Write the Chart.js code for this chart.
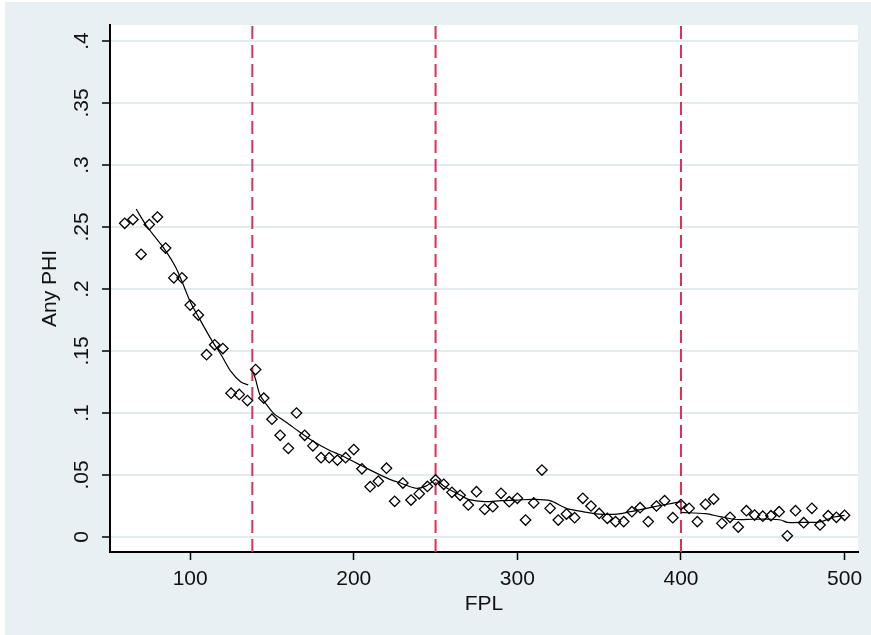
<!DOCTYPE html>
<html>
<head>
<meta charset="utf-8">
<title>Any PHI by FPL</title>
<script src="https://cdn.jsdelivr.net/npm/chart.js@4.4.0/dist/chart.umd.min.js"></script>
<style>
  html, body { margin: 0; padding: 0; background: #fff; }
  #wrap { position: absolute; left: 5px; top: 2px; width: 866px; height: 633px; background: #e9f0f3; }
</style>
</head>
<body>
<div id="wrap"><canvas id="phiChart"></canvas></div>
<script>
// binned means, one per 5 points of FPL
const fplBins = [60, 65, 70, 75, 80, 85, 90, 95, 100, 105, 110, 115, 120, 125, 130, 135,
  140, 145, 150, 155, 160, 165, 170, 175, 180, 185, 190, 195, 200, 205, 210, 215, 220, 225, 230, 235, 240, 245, 250,
  255, 260, 265, 270, 275, 280, 285, 290, 295, 300, 305, 310, 315, 320, 325, 330, 335, 340, 345, 350, 355, 360, 365, 370, 375, 380, 385, 390, 395, 400,
  405, 410, 415, 420, 425, 430, 435, 440, 445, 450, 455, 460, 465, 470, 475, 480, 485, 490, 495, 500];
const anyPhi = [0.253, 0.256, 0.228, 0.252, 0.258, 0.233, 0.209, 0.209, 0.187, 0.179, 0.147, 0.155, 0.152, 0.116, 0.115, 0.110,
  0.135, 0.112, 0.095, 0.082, 0.0715, 0.100, 0.082, 0.0735, 0.064, 0.064, 0.062, 0.064, 0.0705, 0.055, 0.0406, 0.045, 0.0555, 0.0288, 0.0435, 0.0298, 0.0348, 0.0408, 0.046,
  0.0425, 0.036, 0.0336, 0.0258, 0.0365, 0.0223, 0.0244, 0.0352, 0.0285, 0.0312, 0.0137, 0.0275, 0.054, 0.0231, 0.0137, 0.0185, 0.0156, 0.0312, 0.025, 0.019, 0.0151, 0.0124, 0.0124, 0.0204, 0.0236, 0.0124, 0.025, 0.0293, 0.0156, 0.0262,
  0.0231, 0.0124, 0.0264, 0.0306, 0.011, 0.0159, 0.008, 0.0212, 0.0177, 0.0168, 0.0172, 0.0204, 0.001, 0.0212, 0.0115, 0.0231, 0.0097, 0.0172, 0.0159, 0.0175];

// local fits, one per segment between cutoffs
const fit1Fpl = [67, 73, 78.5, 84, 91, 95, 100, 105, 113, 119, 125, 131, 135.5];
const fit1Phi = [0.2645, 0.2516, 0.242, 0.2328, 0.218, 0.206, 0.190, 0.1777, 0.159, 0.1468, 0.1333, 0.125, 0.1226];
const fit2Fpl = [138.5, 140, 142.7, 146, 151, 156, 161, 166, 171, 176, 181, 186, 192, 197, 202, 207, 212, 217, 222, 229, 238, 244, 250];
const fit2Phi = [0.133, 0.127, 0.1145, 0.108, 0.0997, 0.095, 0.0903, 0.0855, 0.0809, 0.0766, 0.0728, 0.0693, 0.0661, 0.0627, 0.0594, 0.056, 0.0527, 0.0495, 0.0465, 0.0433, 0.0393, 0.041, 0.0465];
const fit3Fpl = [250, 255, 259, 265, 270, 280, 290, 300, 310, 320, 330, 340, 350, 361, 369, 379, 389, 400];
const fit3Phi = [0.0468, 0.0411, 0.0379, 0.0339, 0.0304, 0.0285, 0.0293, 0.0298, 0.0304, 0.0293, 0.0231, 0.0204, 0.0185, 0.0185, 0.0204, 0.0231, 0.0258, 0.0285];
const fit4Fpl = [400, 415, 424, 434, 444, 455, 461, 465, 475, 485, 493, 500];
const fit4Phi = [0.0198, 0.0188, 0.0164, 0.0141, 0.0143, 0.0143, 0.0137, 0.0118, 0.0118, 0.0122, 0.0159, 0.0175];

const cutoffs = [138, 250, 400];

const xTickValues = [100, 200, 300, 400, 500];
const yTickValues = [0, 0.05, 0.1, 0.15, 0.2, 0.25, 0.3, 0.35, 0.4];
const yTickLabels = ['0', '.05', '.1', '.15', '.2', '.25', '.3', '.35', '.4'];

const xMin = 51, xMax = 508.2;
const yMin = -0.0121, yMax = 0.4129;

const pts = (xs, ys) => xs.map((x, i) => ({x: x, y: ys[i]}));

const fitStyle = {
  showLine: true, borderColor: '#000', borderWidth: 1.2, pointRadius: 0,
  tension: 0.3, fill: false, order: 1
};

const datasets = [
  {
    data: pts(fplBins, anyPhi),
    pointStyle: 'rectRot', pointRadius: 5.2, pointBorderWidth: 1.3,
    pointBorderColor: '#000', pointBackgroundColor: 'rgba(0,0,0,0)', order: 0
  },
  Object.assign({data: pts(fit1Fpl, fit1Phi)}, fitStyle),
  Object.assign({data: pts(fit2Fpl, fit2Phi)}, fitStyle),
  Object.assign({data: pts(fit3Fpl, fit3Phi)}, fitStyle),
  Object.assign({data: pts(fit4Fpl, fit4Phi)}, fitStyle)
];

cutoffs.forEach(c => {
  datasets.push({
    data: [{x: c, y: yMin}, {x: c, y: yMax}],
    showLine: true, borderColor: '#d8325a', borderWidth: 2, borderDash: [13, 6],
    pointRadius: 0, order: 2
  });
});

// white plot region on the tinted background
const plotBg = {
  id: 'plotBg',
  beforeDraw(chart) {
    const a = chart.chartArea;
    chart.ctx.save();
    chart.ctx.fillStyle = '#fff';
    chart.ctx.fillRect(a.left, a.top, a.right - a.left, a.bottom - a.top);
    chart.ctx.restore();
  }
};

const font = {family: 'Liberation Sans, Arial, sans-serif', size: 21};

new Chart(document.getElementById('phiChart'), {
  type: 'scatter',
  data: {datasets: datasets},
  plugins: [plotBg],
  options: {
    responsive: true,
    maintainAspectRatio: false,
    animation: false,
    events: [],
    layout: {padding: {top: 23, right: 13, left: 0, bottom: 0}},
    plugins: {legend: {display: false}, tooltip: {enabled: false}},
    scales: {
      x: {
        type: 'linear', min: xMin, max: xMax,
        afterBuildTicks: s => { s.ticks = xTickValues.map(v => ({value: v})); },
        afterFit: s => { s.height = 83; },
        grid: {drawOnChartArea: false, tickLength: 8, tickColor: '#000', tickWidth: 1.5},
        border: {color: '#000', width: 2},
        ticks: {color: '#111', font: font, padding: 7, maxRotation: 0, autoSkip: false},
        title: {display: true, text: 'FPL', color: '#111', font: font, padding: {top: 0, bottom: 18}}
      },
      y: {
        type: 'linear', min: yMin, max: yMax,
        afterBuildTicks: s => { s.ticks = yTickValues.map(v => ({value: v})); },
        afterFit: s => { s.width = 105; },
        grid: {color: '#e3ebef', lineWidth: 2, tickLength: 8, tickColor: '#000', tickWidth: 1.5},
        border: {color: '#000', width: 2},
        ticks: {
          color: '#111', font: font, padding: 5, autoSkip: false,
          minRotation: 90, maxRotation: 90, crossAlign: 'center',
          callback: v => yTickLabels[yTickValues.indexOf(v)]
        },
        title: {display: true, text: 'Any PHI', color: '#111', font: font, padding: {top: 33, bottom: 0}}
      }
    }
  }
});
</script>
</body>
</html>
